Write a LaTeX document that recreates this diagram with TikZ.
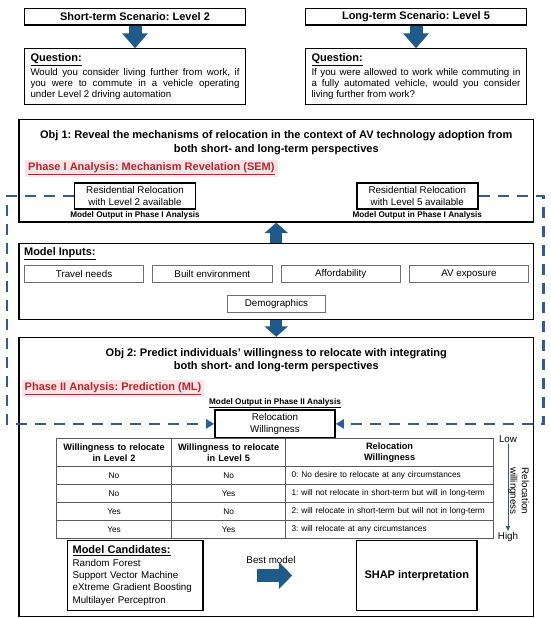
\documentclass[tikz,border=0pt]{standalone}
\usepackage{fontspec}
\setmainfont{Liberation Sans}
\usepackage{xcolor}
\definecolor{arrowBlue}{HTML}{1F5A8A}
\definecolor{dashBlue}{HTML}{2E5C99}
\definecolor{phaseRed}{HTML}{B8262B}
\definecolor{phasePink}{HTML}{FCE3E8}
\definecolor{boxGray}{HTML}{6F6F6F}
\definecolor{tblGray}{HTML}{5A5A5A}
\usetikzlibrary{arrows.meta,positioning,calc,matrix}
\frenchspacing
\newcommand{\fntHead}{\fontsize{11}{13.3}\selectfont}
\newcommand{\fntBody}{\fontsize{9.7}{11}\selectfont}
\newcommand{\fntRes}{\fontsize{9.8}{11.4}\selectfont}
\newcommand{\fntTiny}{\fontsize{8.2}{9.5}\selectfont}
\newcommand{\fntTbl}{\fontsize{8.3}{10}\selectfont}
\newcommand{\fntTblHead}{\fontsize{9.2}{11.2}\selectfont}
\newcommand{\fntCand}{\fontsize{9.8}{12.3}\selectfont}
\tikzset{
    titlebox/.style={
        draw,
        line width=1.2pt,
        minimum width=221pt,
        minimum height=16.7pt,
        inner sep=0pt,
        font=\fntHead\bfseries
    },
    qbox/.style={
        draw,
        line width=1.2pt,
        text width=209pt,
        inner xsep=6pt,
        inner ysep=3pt,
        minimum height=55.7pt,
        align=justify,
        font=\fntBody
    },
    objbox/.style={
        draw,
        line width=1.3pt,
        minimum width=514.8pt,
        inner sep=0pt
    },
    objtitle/.style={
        align=center,
        inner sep=0pt,
        font=\fntHead\bfseries
    },
    phase/.style={
        fill=phasePink,
        text=phaseRed,
        inner xsep=3pt,
        inner ysep=2pt,
        font=\fntHead\bfseries
    },
    resbox/.style={
        draw,
        line width=1.6pt,
        minimum width=121pt,
        minimum height=26.3pt,
        align=center,
        inner sep=0pt,
        font=\fntRes
    },
    outlabel/.style={
        inner sep=0.5pt,
        font=\fntTiny\bfseries
    },
    inbox/.style={
        draw=boxGray,
        line width=0.8pt,
        minimum width=119.5pt,
        minimum height=17pt,
        inner sep=0pt,
        font=\fntRes
    },
    bigarrow/.style={
        draw=arrowBlue,
        line width=13pt,
        -{Triangle[length=15pt,width=25pt]}
    },
    midarrow/.style={
        draw=arrowBlue,
        line width=12.3pt,
        -{Triangle[length=10.5pt,width=23pt]}
    },
    dashconn/.style={
        draw=dashBlue,
        line width=2.6pt,
        dash pattern=on 11pt off 8pt,
        -{Triangle[length=8pt,width=9pt]}
    },
    scalearrow/.style={
        draw=dashBlue,
        line width=1pt,
        -{Triangle[length=5pt,width=4pt]}
    },
    bottombox/.style={
        draw,
        line width=1.2pt,
        minimum width=120.3pt,
        minimum height=70.2pt,
        inner sep=0pt
    }
}
\begin{document}
\begin{tikzpicture}[x=1pt,y=-1pt]
    \useasboundingbox (0,0) rectangle (550,618);

    % Two scenarios on top
    \node[titlebox] (sttitle) at (135,16.65) {Short-term Scenario: Level 2};
    \node[titlebox] (lttitle) at (416,16.65) {Long-term Scenario: Level 5};
    \node[qbox, anchor=north] (stq) at (135,48.3) {{\fntHead\bfseries\underline{Question:}}\\[1.5pt]
        Would you consider living further from work, if\linebreak you were to commute in a vehicle operating\linebreak under Level 2 driving automation};
    \node[qbox, anchor=north] (ltq) at (416,48.3) {{\fntHead\bfseries\underline{Question:}}\\[1.5pt]
        If you were allowed to work while commuting in\linebreak a fully automated vehicle, would you consider\linebreak living further from work?};
    \draw[bigarrow] (sttitle) -- (stq);
    \draw[bigarrow] (lttitle) -- (ltq);

    % Obj 1 and Phase I
    \node[objbox, minimum height=102.5pt, anchor=north west] (obj1) at (18.2,118.8) {};
    \node[objtitle] (obj1t) at ([yshift=-24pt]obj1.north) {Obj 1: Reveal the mechanisms of relocation in the context of AV technology adoption from\\both short- and long-term perspectives};
    \node[phase, anchor=west] (phase1) at (25,168.5) {\underline{Phase I Analysis: Mechanism Revelation (SEM)}};
    \node[resbox, anchor=north west] (res2) at (73.7,181.9) {Residential Relocation\\with Level 2 available};
    \node[resbox, anchor=north west] (res5) at (356,181.9) {Residential Relocation\\with Level 5 available};
    \node[outlabel, below=1.5pt of res2] (out2) {\underline{Model Output in Phase I Analysis}};
    \node[outlabel, below=1.5pt of res5] (out5) {\underline{Model Output in Phase I Analysis}};

    % Model inputs
    \node[objbox, minimum height=75.5pt, anchor=north west] (inputs) at (18.2,243) {};
    \node[font=\fntHead\bfseries, inner sep=0pt, anchor=west] (inhead) at (23.9,253.6) {\underline{Model Inputs:}};
    \node[inbox, anchor=north west] (travel) at (23.9,265.2) {Travel needs};
    \node[inbox, right=8pt of travel] (built) {Built environment};
    \node[inbox, right=8pt of built] (afford) {Affordability};
    \node[inbox, right=8pt of afford] (avexp) {AV exposure};
    \node[inbox, minimum width=98pt, anchor=north] (demo) at ($(built.south east)!0.5!(afford.south west)+(0,11.6)$) {Demographics};
    \draw[midarrow] (inputs.north) -- (obj1.south);

    % Obj 2 and Phase II
    \node[objbox, minimum height=279.1pt, anchor=north west] (obj2) at (18.2,336.8) {};
    \draw[midarrow] (inputs.south) -- (obj2.north);
    \node[objtitle] (obj2t) at ([yshift=-23.6pt]obj2.north) {Obj 2: Predict individuals’ willingness to relocate with integrating\\both short- and long-term perspectives};
    \node[phase, anchor=west] (phase2) at (21.5,388.4) {\underline{Phase II Analysis: Prediction (ML)}};
    \node[resbox, minimum width=120pt, minimum height=27.4pt, anchor=north] (relw) at (275,409.4) {Relocation\\Willingness};
    \node[outlabel, above=0.5pt of relw] (outrel) {\underline{Model Output in Phase II Analysis}};

    % Phase I outputs feed Phase II
    \draw[dashconn] (res2.west) -- ++(-66.7,0) |- (relw.west);
    \draw[dashconn] (res5.east) -- ++(65,0) |- (relw.east);

    % Willingness table
    \matrix[matrix of nodes, anchor=north west, inner sep=0pt,
        nodes={draw=tblGray, line width=0.8pt, minimum height=17.9pt, inner sep=0pt, anchor=center, font=\fntTbl},
        column sep=-0.8pt, row sep=-0.8pt,
        column 1/.style={nodes={text width=114.7pt, align=center}},
        column 2/.style={nodes={text width=114.4pt, align=center}},
        column 3/.style={nodes={text width=196pt, inner xsep=5.8pt, align=left}},
        row 1/.style={nodes={minimum height=28.4pt, font=\fntTblHead\bfseries}},
        row 1 column 3/.style={nodes={align=center}}] (tbl) at (56.1,437.7) {
        {Willingness to relocate\\in Level 2} & {Willingness to relocate\\in Level 5} & {Relocation\\Willingness} \\
        No & No & 0: No desire to relocate at any circumstances \\
        No & Yes & 1: will not relocate in short-term but will in long-term \\
        Yes & No & 2: will relocate in short-term but will not in long-term \\
        Yes & Yes & 3: will relocate at any circumstances \\
    };
    \node[font=\fntRes, inner sep=1pt] (low) at (508,439) {Low};
    \node[font=\fntRes, inner sep=1pt] (high) at (508,537) {High};
    \draw[scalearrow] (low) -- (high);
    \node[rotate=-90, align=center, inner sep=0pt, font=\fntRes] (rw) at (518.7,491) {Relocation\\willingness};

    % Candidates and SHAP
    \node[bottombox, minimum width=135.8pt, text width=125pt, inner xsep=5.3pt, align=left, anchor=north west, font=\fntCand] (cand) at (66.6,539.8) {{\fntHead\bfseries\underline{Model Candidates:}}\\Random Forest\\Support Vector Machine\\eXtreme Gradient Boosting\\Multilayer Perceptron};
    \node[bottombox, anchor=north west, font=\fntHead\bfseries] (shap) at (356,539.8) {SHAP interpretation};
    \node[font=\fntRes, inner sep=0pt] (best) at (271,559.8) {Best model};
    \draw[bigarrow, -{Triangle[length=13.3pt,width=26.3pt]}, shorten <=53.6pt, shorten >=63.8pt] (cand) -- (shap);
\end{tikzpicture}
\end{document}
